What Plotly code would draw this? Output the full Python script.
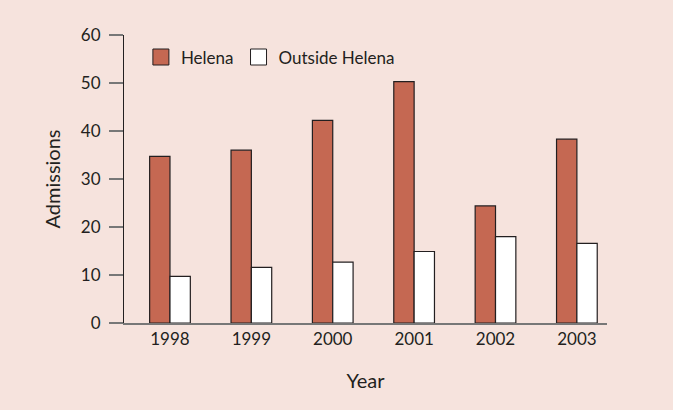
import plotly.graph_objects as go

years = ['1998', '1999', '2000', '2001', '2002', '2003']
helena = [34.7, 36.0, 42.2, 50.3, 24.4, 38.3]
outside_helena = [9.7, 11.6, 12.7, 14.9, 18.0, 16.6]
y_ticks = [0, 10, 20, 30, 40, 50, 60]

bg = '#F6E3DD'
red = '#C56852'
ink = '#231F20'
font_family = 'Lato, Open Sans, sans-serif'

fig = go.Figure()
fig.add_trace(go.Bar(x=years, y=helena, name='Helena', marker_color=red,
                     marker_line_color=ink, marker_line_width=1.2, showlegend=False))
fig.add_trace(go.Bar(x=years, y=outside_helena, name='Outside Helena', marker_color='white',
                     marker_line_color=ink, marker_line_width=1.2, showlegend=False))

# legend entries with bigger square swatches
fig.add_trace(go.Scatter(x=[None], y=[None], mode='markers', name='Helena',
                         marker=dict(symbol='square', size=16, color=red, line=dict(color=ink, width=1))))
fig.add_trace(go.Scatter(x=[None], y=[None], mode='markers', name='Outside Helena',
                         marker=dict(symbol='square', size=16, color='white', line=dict(color=ink, width=1))))

fig.update_layout(width=673,
                  height=410,
                  margin=dict(l=124, r=66, t=35, b=87),
                  paper_bgcolor=bg,
                  plot_bgcolor=bg,
                  font=dict(family=font_family, size=17, color=ink),
                  barmode='group',
                  bargap=0.5,
                  bargroupgap=0,
                  hovermode=False,
                  legend=dict(orientation='h', x=0.035, xanchor='left', y=0.922, yanchor='middle',
                              bgcolor='rgba(0,0,0,0)', font=dict(size=17, color=ink)),
                  xaxis=dict(title=dict(text='Year', standoff=26),
                             range=[-0.565, 5.37],
                             showline=True, linecolor='#777777', linewidth=1.5,
                             ticks='', showgrid=False, zeroline=False,
                             tickfont=dict(size=17, color=ink)),
                  yaxis=dict(title=dict(text='Admissions', standoff=14),
                             range=[0, 60], tickvals=y_ticks,
                             showline=True, linecolor=ink, linewidth=1.2,
                             ticks='outside', ticklen=14, tickcolor='#777777', tickwidth=1.5,
                             ticklabelstandoff=5,
                             showgrid=False, zeroline=False,
                             tickfont=dict(size=17, color=ink)))

# drop the browser's default body margin so the figure fills the window
fig.write_html("out.html", config={'displayModeBar': False},
               post_script="document.body.style.margin='0';")
